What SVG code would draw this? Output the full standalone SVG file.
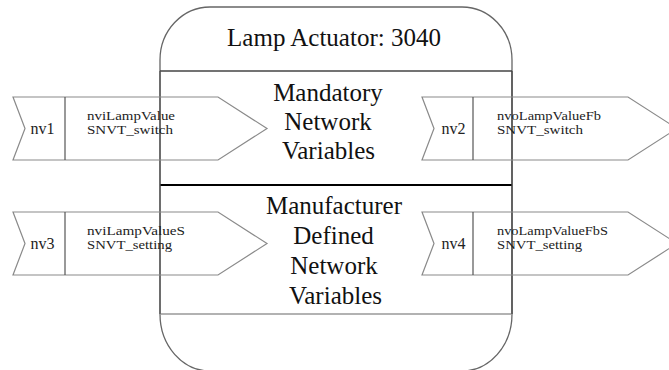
<svg xmlns="http://www.w3.org/2000/svg" width="669" height="370" viewBox="0 0 669 370">
<style>
text{font-family:"Liberation Serif","Times New Roman",Tinos,"DejaVu Serif",serif}
.big{font-size:25px;fill:#111;text-anchor:middle}
.sm{font-size:13px;fill:#222}
.lbl{font-size:16px;fill:#222;text-anchor:middle}
.arr{fill:none;stroke:#8a8a8a;stroke-width:1.2}
.div{stroke:#555;stroke-width:1.2}
.box{fill:none;stroke:#666;stroke-width:1.3}
</style>
<rect width="669" height="370" fill="#fff"/>
<g id="lamp-actuator">
<path class="box" d="M210,7 H462 A50,53 0 0 1 512,60 V314 A50,57 0 0 1 462,371 H210 A50,57 0 0 1 160,314 V60 A50,53 0 0 1 210,7 Z"/>
<line x1="160" y1="71" x2="512" y2="71" stroke="#444" stroke-width="1.5"/>
<line x1="160" y1="185" x2="512" y2="185" stroke="#000" stroke-width="1.8"/>
<line x1="160" y1="314" x2="512" y2="314" stroke="#999" stroke-width="1.5"/>
<line x1="160" y1="71" x2="160" y2="314" stroke="#555" stroke-width="1.3"/>
<line x1="512" y1="71" x2="512" y2="314" stroke="#444" stroke-width="1.3"/>
<text class="big" x="334" y="46">Lamp Actuator: 3040</text>
<text class="big" x="328" y="101">Mandatory</text>
<text class="big" x="328" y="130">Network</text>
<text class="big" x="328.5" y="159">Variables</text>
<text class="big" x="334" y="214">Manufacturer</text>
<text class="big" x="333.5" y="244">Defined</text>
<text class="big" x="334" y="274">Network</text>
<text class="big" x="335.5" y="304">Variables</text>
</g>
<g id="nv1">
<polygon class="arr" points="13,97 218,97 267,128.5 218,160 13,160 25,128.5"/>
<line class="div" x1="65" y1="97" x2="65" y2="160"/>
<text class="lbl" x="42.5" y="134">nv1</text>
<text class="sm" x="87" y="120" textLength="88" lengthAdjust="spacingAndGlyphs">nviLampValue</text>
<text class="sm" x="87" y="134" textLength="86" lengthAdjust="spacingAndGlyphs">SNVT_switch</text>
</g>
<g id="nv2">
<polygon class="arr" points="422,97 628,97 677,128.5 628,160 422,160 434,128.5"/>
<line class="div" x1="473" y1="97" x2="473" y2="160"/>
<text class="lbl" x="453.5" y="134">nv2</text>
<text class="sm" x="497" y="120" textLength="104" lengthAdjust="spacingAndGlyphs">nvoLampValueFb</text>
<text class="sm" x="497" y="134" textLength="86" lengthAdjust="spacingAndGlyphs">SNVT_switch</text>
</g>
<g id="nv3">
<polygon class="arr" points="13,212 218,212 267,243.5 218,275 13,275 25,243.5"/>
<line class="div" x1="65" y1="212" x2="65" y2="275"/>
<text class="lbl" x="42.5" y="249">nv3</text>
<text class="sm" x="87" y="235" textLength="98" lengthAdjust="spacingAndGlyphs">nviLampValueS</text>
<text class="sm" x="87" y="249" textLength="85" lengthAdjust="spacingAndGlyphs">SNVT_setting</text>
</g>
<g id="nv4">
<polygon class="arr" points="422,212 628,212 677,243.5 628,275 422,275 434,243.5"/>
<line class="div" x1="473" y1="212" x2="473" y2="275"/>
<text class="lbl" x="453.5" y="249">nv4</text>
<text class="sm" x="497" y="235" textLength="111" lengthAdjust="spacingAndGlyphs">nvoLampValueFbS</text>
<text class="sm" x="497" y="249" textLength="85" lengthAdjust="spacingAndGlyphs">SNVT_setting</text>
</g>
<g id="connectors"/>
</svg>
